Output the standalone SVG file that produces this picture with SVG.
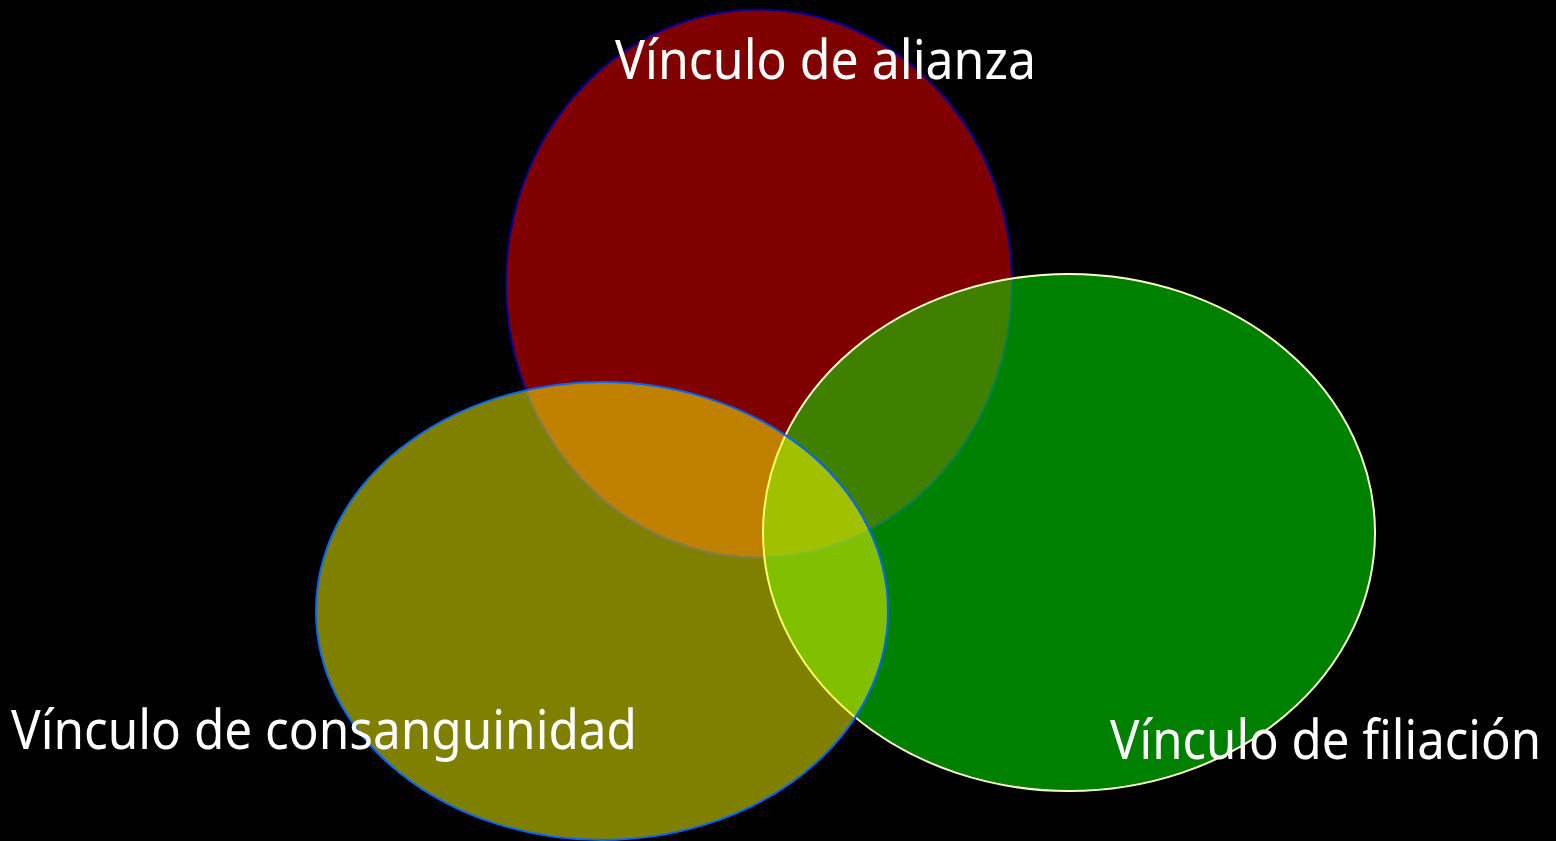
<svg xmlns="http://www.w3.org/2000/svg" width="1556" height="841" viewBox="0 0 1556 841">
  <style>
    .lbl { font-family: "Noto Sans", "DejaVu Sans", sans-serif; font-size: 54px; fill: #ffffff; }
    .set { stroke-width: 2; }
  </style>
  <rect x="0" y="0" width="1556" height="841" fill="#000000"/>
  <g id="alianza">
    <ellipse class="set" cx="759" cy="283.5" rx="253" ry="274" fill="#ff0000" fill-opacity="0.5" stroke="#000099"/>
  </g>
  <g id="filiacion">
    <ellipse class="set" cx="1069" cy="532.5" rx="306" ry="258.5" fill="#00ff00" fill-opacity="0.5" stroke="#ffffcc"/>
  </g>
  <g id="consanguinidad">
    <ellipse class="set" cx="602" cy="611" rx="286" ry="229" fill="#ffff00" fill-opacity="0.5" stroke="#0066ff"/>
  </g>
  <g id="connectors"></g>
  <g id="labels">
    <text class="lbl" x="615" y="79" textLength="421" lengthAdjust="spacingAndGlyphs">Vínculo de alianza</text>
    <text class="lbl" x="11" y="749" textLength="626" lengthAdjust="spacingAndGlyphs">Vínculo de consanguinidad</text>
    <text class="lbl" x="1110" y="759" textLength="431" lengthAdjust="spacingAndGlyphs">Vínculo de filiación</text>
  </g>
</svg>
